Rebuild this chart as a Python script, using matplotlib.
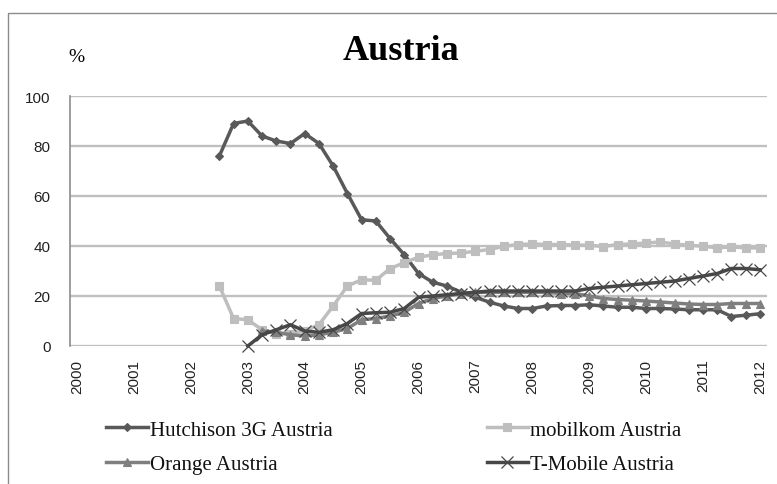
import matplotlib
matplotlib.use("Agg")
import matplotlib.pyplot as plt
import numpy as np
from matplotlib.patches import Rectangle

years = [str(y) for y in range(2000, 2013)]
n_quarters = 49

hutchison_start = 10
hutchison = [76, 89, 90, 84, 82, 81, 85, 81, 72, 61, 50.5, 50, 43, 36.5, 29, 25.5,
             24, 21.5, 19.5, 17.5, 16, 15, 15, 16, 16.2, 16.2, 16.5, 16, 15.5, 15.5,
             15, 15, 14.8, 14.5, 14.5, 14.5, 11.8, 12.3, 12.9]

mobilkom_start = 10
mobilkom = [24, 11, 10.5, 6.5, 5, 5, 6, 8.5, 16, 24, 26.5, 26.3, 31, 33.3, 35.5, 36.5,
            37, 37.2, 37.9, 38.6, 39.9, 40.6, 40.8, 40.6, 40.6, 40.4, 40.3, 39.8, 40.6,
            40.8, 41.2, 41.6, 40.8, 40.3, 39.9, 39.3, 39.6, 39.3, 39.2]

orange_start = 13
orange = [6, 5.5, 4.5, 4, 4.5, 5.5, 7, 10.5, 11, 12, 13.5, 17, 19, 20, 21, 21.5, 21.5,
          21.5, 21.5, 21.5, 21.5, 21, 21, 20, 19, 18.6, 18.3, 18, 17.6, 17.2, 16.8,
          16.6, 16.6, 17, 17, 17]

tmobile_start = 12
tmobile = [0, 4.5, 6.5, 8.5, 6, 5.5, 6.5, 9, 13, 13.3, 13.5, 15, 19.5, 20, 20.5, 21,
           21.5, 22, 22, 22, 22, 22, 22, 22, 23, 23.5, 24, 24.5, 25, 25.5, 26, 27, 28,
           29, 31, 31, 30.5]

series = [
    ("Hutchison 3G Austria", hutchison_start, hutchison, "#595959", "D", 4.2, 0.8),
    ("mobilkom Austria", mobilkom_start, mobilkom, "#BEBEBE", "s", 5.5, 0.8),
    ("Orange Austria", orange_start, orange, "#7F7F7F", "^", 6.0, 0.8),
    ("T-Mobile Austria", tmobile_start, tmobile, "#474747", "x", 9.0, 0.9),
]

fig = plt.figure(figsize=(7.77, 4.85), dpi=100)
W, H = 777, 485
ax = fig.add_axes([70 / W, 1 - 347 / H, (767 - 70) / W, (347 - 97) / H])

handles = {}
for name, start, vals, col, mk, ms, mew in series:
    x = np.arange(start, start + len(vals))
    (ln,) = ax.plot(x, vals, color=col, lw=2.5, marker=mk, markersize=ms,
                    markerfacecolor=col, markeredgecolor=col, markeredgewidth=mew,
                    label=name, solid_joinstyle="round", clip_on=False)
    handles[name] = ln

ax.set_xlim(-0.5, n_quarters - 0.5)
ax.set_ylim(0, 100)
ax.set_yticks(range(0, 101, 20))
ax.set_xticks(range(0, n_quarters, 4))
ax.set_xticklabels(years, rotation=90)
tick_font = ["Liberation Sans", "DejaVu Sans"]
for lab in ax.get_xticklabels() + ax.get_yticklabels():
    lab.set_family(tick_font)
    lab.set_fontsize(11)
    lab.set_color("#222222")
ax.tick_params(axis="both", length=0)
ax.tick_params(axis="y", pad=14)
ax.tick_params(axis="x", pad=9)
ax.grid(axis="y", color="#C0C0C0", lw=1.7)
ax.set_axisbelow(True)
for s in ["top", "right", "bottom"]:
    ax.spines[s].set_visible(False)
ax.spines["left"].set_color("#8C8C8C")
ax.spines["left"].set_linewidth(1.2)

fig.text(401 / W, 1 - 52 / H, "Austria", ha="center", va="center",
         family=["Liberation Serif", "DejaVu Serif"], fontweight="bold", fontsize=26)
fig.text(76 / W, 1 - 57 / H, "%", ha="center", va="center",
         family=["Liberation Serif", "DejaVu Serif"], fontsize=14)

order = ["Hutchison 3G Austria", "Orange Austria", "mobilkom Austria", "T-Mobile Austria"]
leg = fig.legend([handles[k] for k in order], order, ncol=2, loc="upper left",
                 bbox_to_anchor=(106 / W, 1 - 421 / H), frameon=False,
                 prop={"family": ["Liberation Serif", "DejaVu Serif"], "size": 15},
                 handlelength=2.0, handletextpad=0.1, columnspacing=7.4,
                 labelspacing=0.72, borderpad=0, borderaxespad=0)
for t in leg.get_texts():
    t.set_color("#111111")

fig.patches.append(Rectangle((8 / W, -0.1), 1.2, 1 - 14 / H + 0.1, transform=fig.transFigure,
                             fill=False, edgecolor="#8C8C8C", lw=1.0))

fig.savefig("out.png", dpi=100, facecolor="white")
